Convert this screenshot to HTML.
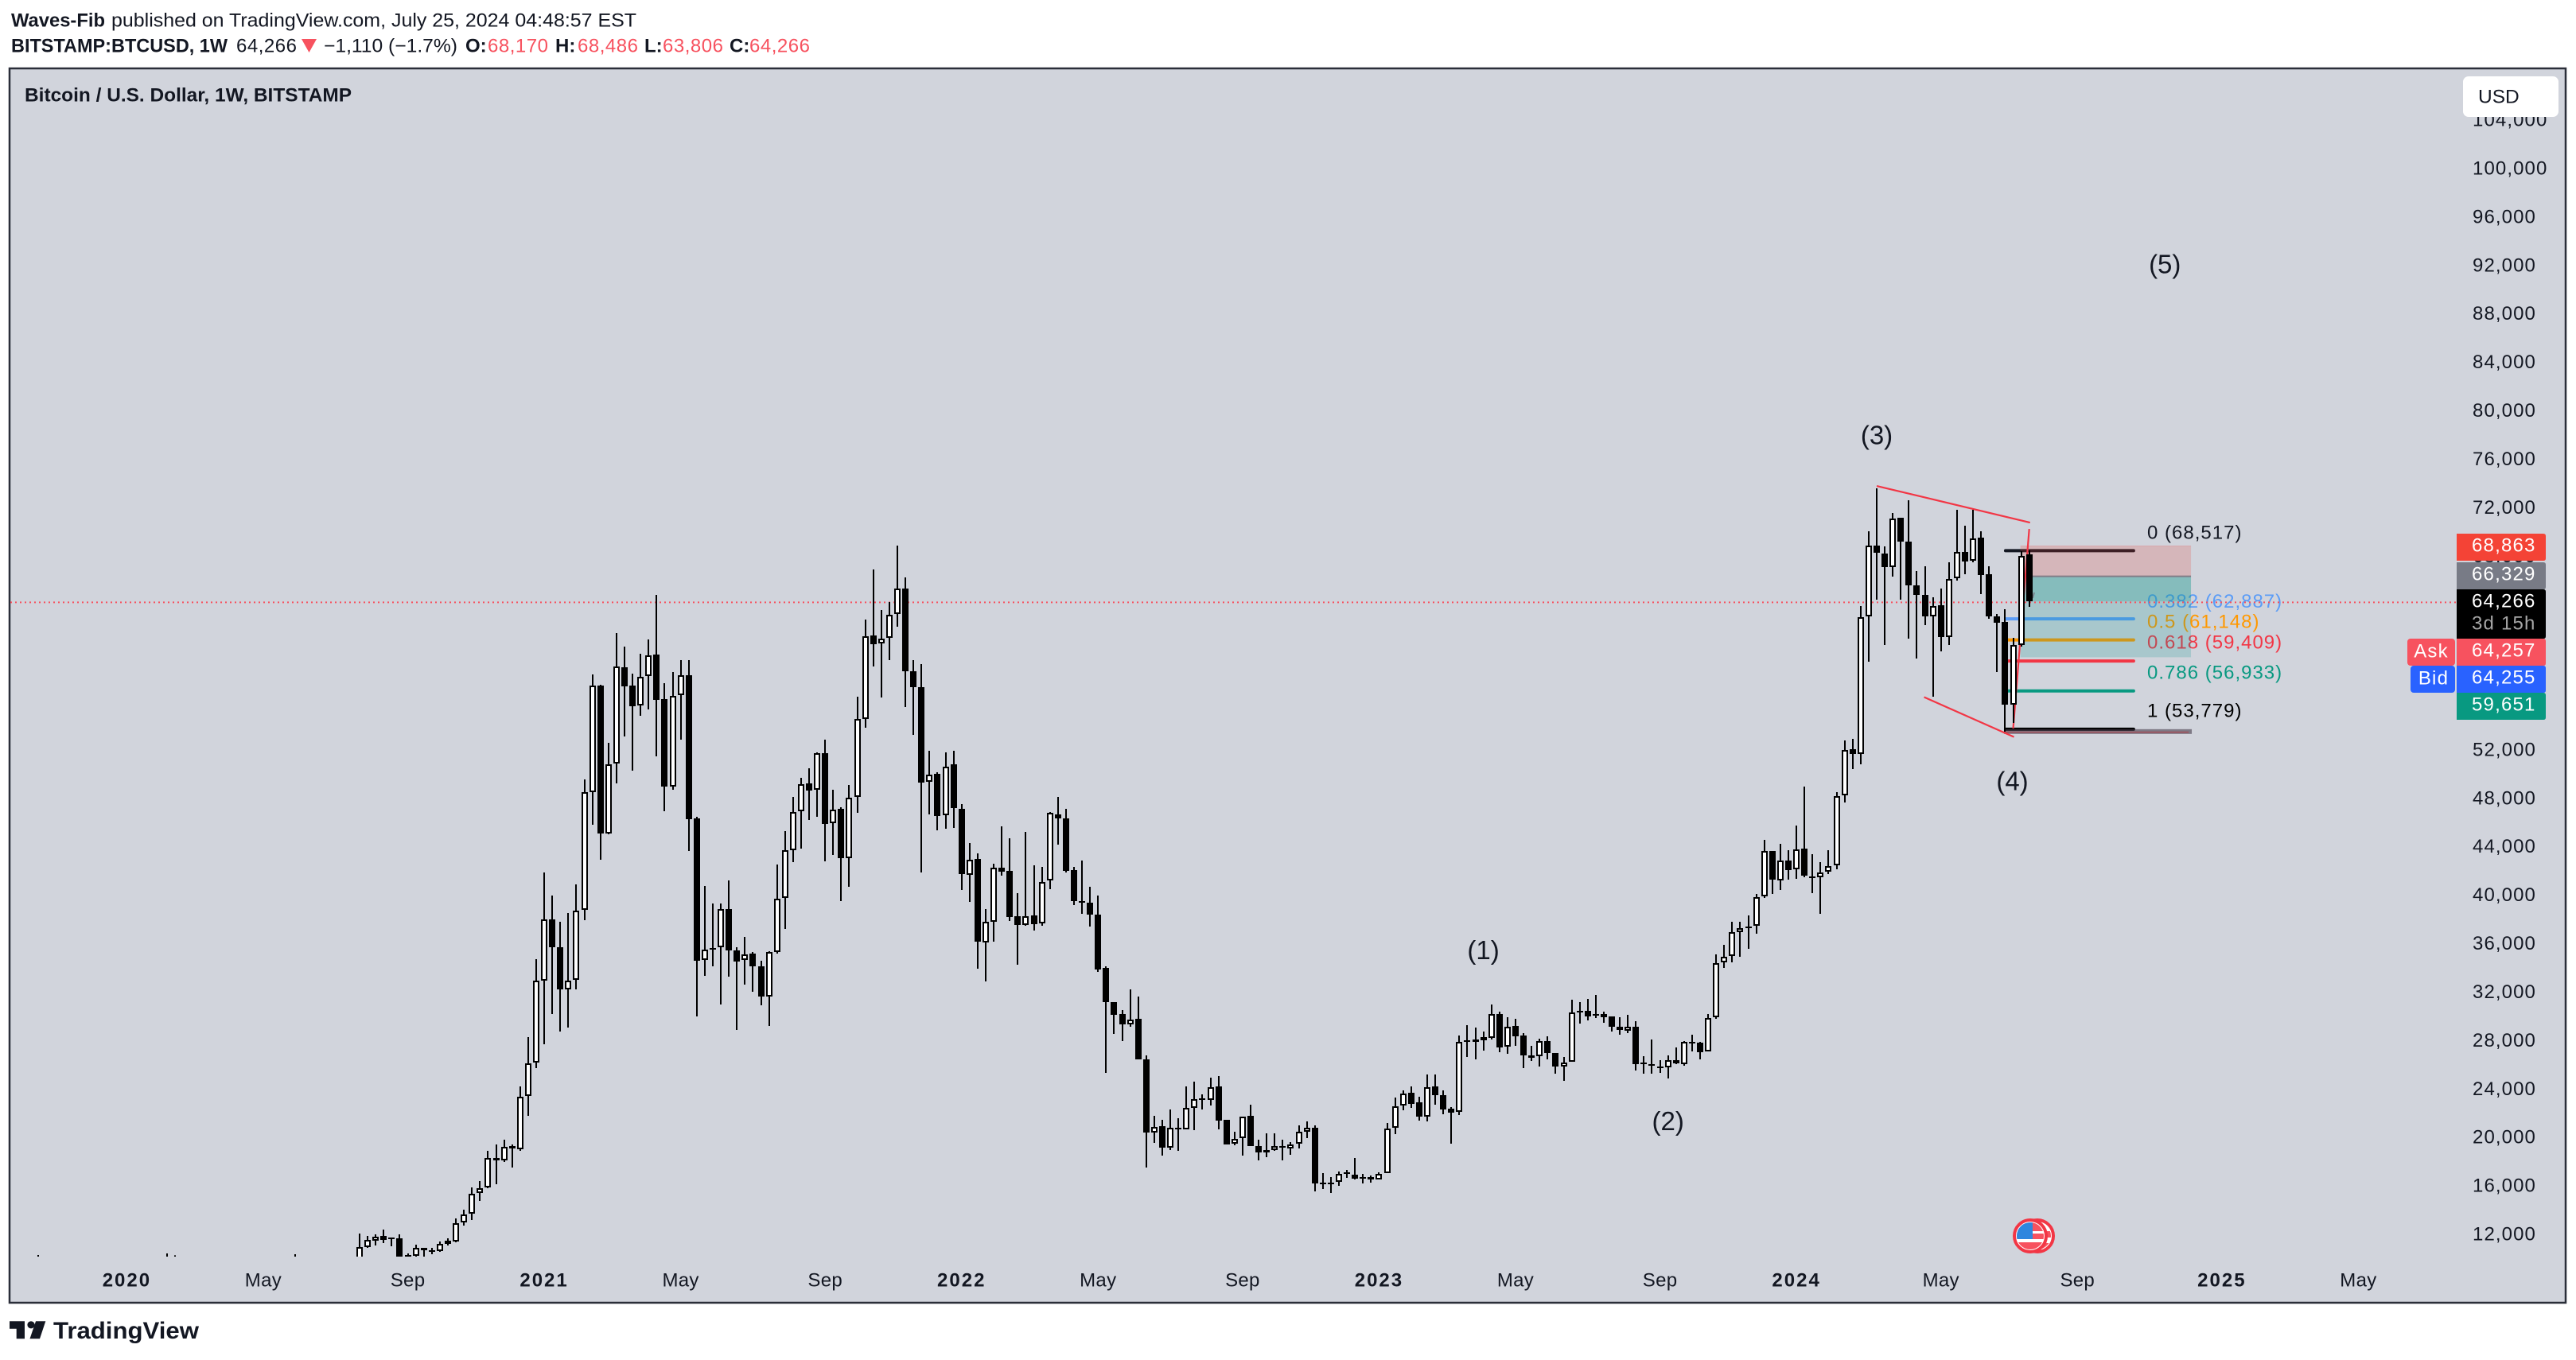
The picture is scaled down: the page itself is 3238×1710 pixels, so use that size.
<!DOCTYPE html>
<html lang="en">
<head>
<meta charset="utf-8">
<title>BTCUSD weekly chart</title>
<style>
html,body{margin:0;padding:0;background:#fff;width:3238px;height:1710px;overflow:hidden}
svg{display:block}
text{font-family:"Liberation Sans",Arial,sans-serif;fill:#131722}
.hd{font-size:24px;dominant-baseline:central}
.b{font-weight:700}
.r{fill:#f7525f}
.ax{font-size:24px;letter-spacing:1.1px;dominant-baseline:central;fill:#131722}
.tm{font-size:24px;letter-spacing:.3px;dominant-baseline:central;fill:#131722}
.badge{font-size:24px;letter-spacing:1.2px;dominant-baseline:central;fill:#fff}
.fib{font-size:24px;letter-spacing:1px;dominant-baseline:central}
.wave{font-size:33px;dominant-baseline:central;text-anchor:middle}
</style>
</head>
<body>
<svg id="root" xmlns="http://www.w3.org/2000/svg" width="3238" height="1710" viewBox="0 0 3238 1710">
  <defs>
    <clipPath id="plotClip"><rect x="13" y="87" width="3212" height="1493"/></clipPath>
    <clipPath id="coinA"><circle cx="2554" cy="1554" r="17"/></clipPath>
    <clipPath id="coinB"><circle cx="2563" cy="1554" r="17"/></clipPath>
  </defs>

  <g>
    <text class="hd b" x="14" y="26" textLength="118" lengthAdjust="spacingAndGlyphs">Waves-Fib</text>
    <text class="hd" x="140" y="26" textLength="660" lengthAdjust="spacingAndGlyphs">published on TradingView.com, July 25, 2024 04:48:57 EST</text>
    <text class="hd b" x="14" y="58" textLength="272" lengthAdjust="spacingAndGlyphs">BITSTAMP:BTCUSD, 1W</text>
    <text class="hd" x="297" y="58" textLength="76" lengthAdjust="spacing">64,266</text>
    <polygon points="379,49 398,49 388.5,66" fill="#f7525f"/>
    <text class="hd" x="407" y="58" textLength="168" lengthAdjust="spacingAndGlyphs">−1,110 (−1.7%)</text>
    <text class="hd b" x="585" y="58">O:</text>
    <text class="hd r" x="613" y="58" textLength="76" lengthAdjust="spacing">68,170</text>
    <text class="hd b" x="698" y="58">H:</text>
    <text class="hd r" x="726" y="58" textLength="76" lengthAdjust="spacing">68,486</text>
    <text class="hd b" x="810" y="58">L:</text>
    <text class="hd r" x="833" y="58" textLength="76" lengthAdjust="spacing">63,806</text>
    <text class="hd b" x="917" y="58">C:</text>
    <text class="hd r" x="942" y="58" textLength="76" lengthAdjust="spacing">64,266</text>
  </g>

  <rect x="12" y="86" width="3213" height="1552" fill="#d1d4dc" stroke="#2a2e39" stroke-width="2.5"/>
  <text class="hd b" x="31" y="120" textLength="411" lengthAdjust="spacingAndGlyphs">Bitcoin / U.S. Dollar, 1W, BITSTAMP</text>

  <g id="yAxis"></g>
  <g id="xAxis"></g>
  <g id="fibs"></g>
  <g id="position"></g>
  <g id="trend"></g>
  <line id="lastLine" x1="13" x2="3088" stroke="#f7525f" stroke-width="2" stroke-dasharray="2 4"/>
  <g id="candles" clip-path="url(#plotClip)"></g>
  <g id="waves"></g>
  <g id="badges"></g>

  <g>
    <rect x="3096" y="96" width="120" height="51" rx="7" fill="#fff"/>
    <text x="3115" y="122" font-size="24.5" dominant-baseline="central">USD</text>
  </g>

  <g transform="translate(-2,0)">
    <circle cx="2563" cy="1554" r="20" fill="#fff" stroke="#f23645" stroke-width="4"/>
    <g clip-path="url(#coinB)">
      <rect x="2546" y="1548" width="34" height="8" fill="#f7525f"/>
      <rect x="2546" y="1563" width="34" height="9" fill="#f7525f"/>
    </g>
    <circle cx="2554" cy="1554" r="20" fill="#fff" stroke="#f23645" stroke-width="4"/>
    <g clip-path="url(#coinA)">
      <rect x="2537" y="1537" width="34" height="11" fill="#f7525f"/>
      <rect x="2537" y="1551" width="34" height="7" fill="#f7525f"/>
      <rect x="2537" y="1562" width="34" height="10" fill="#f7525f"/>
      <rect x="2537" y="1537" width="20" height="21" fill="#2e86de"/>
    </g>
  </g>

  <g>
    <path d="M12 1661.3H31V1683.3H20.7V1670.7H12Z" fill="#131722"/>
    <circle cx="39" cy="1665.8" r="4.6" fill="#131722"/>
    <path d="M45 1661.3H57.3L50 1683.3H37.5Z" fill="#131722"/>
    <text x="67" y="1683" font-size="30" font-weight="700" textLength="183" lengthAdjust="spacingAndGlyphs">TradingView</text>
  </g>
</svg>

<script>
// ---- Candle data, one entry per weekly bar ----
const opens = [
9700,10971,11580,11850,11716,11650,10300,10250,10860,10690,
10600,11470,11430,12960,13700,15390,15850,18330,18085,19265,
19050,23400,26185,32976,38014,35700,32240,33030,38776,48498,
57347,45120,50866,58844,57292,55659,58082,59852,56176,48987,
56503,58191,46319,34637,35670,35700,38886,35454,34637,35153,
34146,31669,35344,39757,43732,46917,49205,48687,51710,45937,
47163,43078,48117,54570,61431,60777,61240,63201,65352,58518,
57210,49341,49994,46591,50784,47163,41690,42969,36134,37794,
42288,41990,38258,37578,38340,37661,41230,46708,46331,42059,
39546,39370,38390,33992,31153,30173,29368,29770,26453,20422,
20900,19190,20823,20697,22457,23250,23086,24242,21428,19467,
19945,21754,19316,18940,18965,19291,19240,19492,20522,20773,
16250,16250,16352,17100,16955,16750,16703,16528,17030,20798,
22608,23663,22885,21730,24192,23463,22357,22130,28036,28061,
28288,28237,30223,27484,29192,28388,26805,26705,27986,27006,
25850,26228,30474,30474,30210,30173,29972,29167,28916,29167,
26177,26025,25875,25775,26403,26076,27911,27810,27081,29921,
34444,34973,37008,37400,37500,39902,43672,41209,42893,42139,
43823,41536,41510,41937,42491,48246,52040,51664,63022,68902,
68199,67093,71139,69229,65610,64831,63022,63927,61313,66163,
68324,67596,69505,66490,63022,62544,55709,60685,68170];

const highs = [
12065,11870,12020,12400,11720,12000,10440,11150,10900,10870,
11400,11690,13310,14013,15850,16400,18900,19420,19815,19400,
24215,28290,34720,41907,40000,37800,38500,40900,49587,58218,
57400,52554,61676,60500,58327,59960,61104,64780,57483,58400,
59443,59443,46510,40792,39348,39293,41254,35700,36543,35300,
34580,35400,42534,45283,48088,49722,50458,51765,52826,48742,
47244,49124,56421,62793,66877,63582,64181,68865,66278,59416,
59117,51900,50158,51792,51955,47516,44331,43460,38830,42588,
45720,44685,40192,45230,42500,42310,46860,48090,47110,42310,
42838,40677,39948,34118,31153,30500,32258,31605,26755,21754,
21428,22280,21578,24192,24594,23563,24970,25096,21428,20447,
21730,22683,19794,20320,20372,19844,19618,20975,21352,20975,
17055,16726,17180,17305,18310,16980,16853,17105,21176,23286,
23890,24192,23337,25172,25172,23890,22507,28388,29268,29066,
28715,30977,30373,29922,29770,28615,27534,28162,28338,27006,
26654,31379,31177,31429,31755,30373,29997,29922,30097,29594,
26680,28087,26353,26755,27408,27935,28489,27911,30222,35098,
35902,37837,37837,38314,40078,44600,43672,44275,43698,45783,
48949,43420,42717,43748,48497,52769,52894,63851,70033,73627,
68777,71592,71139,72647,66766,67143,64580,65359,67520,71818,
70486,71818,70033,67143,63200,63650,61263,68400,68486];

const lows = [
9000,10900,11080,11255,11040,9900,10100,10100,10180,10330,
10530,11080,11360,12745,13180,14760,15800,16160,18000,17540,
18900,21800,25725,27673,30170,28755,29080,32212,37958,45828,
42940,45010,49260,53125,50294,54842,55359,51492,46945,48742,
52880,43677,30000,33357,34146,30987,33302,28900,32650,32050,
30934,29219,35200,37223,42750,43868,46237,46510,42806,43323,
39538,40683,46836,53861,58899,56339,59443,62166,55522,53262,
41880,46673,45366,45502,45584,40437,39429,33929,32895,36188,
41635,37905,34283,37468,37083,37510,40476,44195,41858,39170,
38490,37385,33640,25347,28564,27986,29168,26453,17531,19542,
18512,18965,18864,20697,20622,22330,22607,20673,19417,19366,
18486,19316,18109,18360,18915,18109,18561,19115,19944,15546,
15772,15420,16024,16678,16527,16226,16300,16528,17030,20295,
22256,22458,21403,21352,22709,21930,19518,21880,26654,26453,
27157,28111,27030,26930,27584,25724,26327,25825,26453,25272,
24669,26228,29419,29670,29871,29470,28766,28489,28640,25524,
25298,25298,25348,24895,26026,25950,27081,26453,27081,29795,
34000,34470,34947,35600,36800,39800,40102,40405,41259,41385,
41461,40204,38446,41762,42165,47692,50432,50833,59252,64429,
60685,66314,64404,61212,59579,62318,56413,60107,60685,66012,
66540,67470,64881,62800,58398,53523,54227,60500,63806];

const closes = [
10971,11540,11800,11560,11650,10180,10250,10860,10690,10650,
11230,11230,12940,13640,15370,15830,18330,18085,19245,19070,
23383,26140,32970,38014,35700,32213,32976,38720,48524,57320,
45120,50810,58900,57265,55630,58054,59825,56150,48987,56475,
58191,46291,34610,35508,35560,38858,35454,34555,35126,34146,
31642,35317,39730,43732,46863,49178,48660,51710,45910,47081,
43078,48060,54570,61404,60750,61186,63174,65325,58518,57183,
49314,49940,46564,50620,47217,41771,42915,36188,37822,42288,
41962,38231,37550,38258,37636,41104,46808,46331,42034,39546,
39370,38390,33866,31203,30147,29368,29745,26478,20422,20850,
19190,20773,20773,22457,23186,23200,24166,21403,19442,19870,
21728,19316,18739,18739,19267,19215,19442,20497,20823,16225,
16200,16240,16980,17050,16603,16700,16500,16980,20748,22583,
23638,22784,21704,24166,23463,22332,22080,27910,27960,27860,
28010,30197,27459,29117,28363,26805,26604,27960,27006,25825,
26202,30348,30323,30022,30150,29947,29167,28891,29142,26076,
26100,25960,25724,26403,26127,27860,27860,27056,29871,34394,
34922,36957,37309,37320,39827,43672,41259,42868,42089,43798,
41586,41460,41862,42390,48196,52015,51638,62971,68877,68274,
67068,71114,69229,65610,64831,62997,63901,61338,66138,68349,
67571,69480,66465,62997,62520,55709,60685,68023,64266];

// Wick tips of much earlier bars that just poke above the bottom of the pane
const earlyBars = [-40,-24,-23,-8];
const earlyHighs = [10293,10424,10270,10358];

// ---- Axis labels ----
const priceTicks = [12000,16000,20000,24000,28000,32000,36000,40000,44000,48000,52000,56000,60000,64000,68000,72000,76000,80000,84000,88000,92000,96000,100000,104000];
const timeLabels = ['2020','May','Sep','2021','May','Sep','2022','May','Sep','2023','May','Sep','2024','May','Sep','2025','May'];
const timeBars = [-29,-12,6,23,40,58,75,92,110,127,144,162,179,197,214,232,249];

// ---- Annotations ----
const lastPrice = 64266;
const fibLabels = ['0 (68,517)','0.382 (62,887)','0.5 (61,148)','0.618 (59,409)','0.786 (56,933)','1 (53,779)'];
const fibPrices = [68517,62887,61148,59409,56933,53779];
const fibLabelPrices = [69920,64230,62570,60860,58380,55210];
const fibColors = ['#131722','#5b9cf6','#ff9800','#f23645','#089981','#000000'];
const fibStartBar = 205.05;
const fibEndBar = 221.0;
const fibTextBar = 222.7;

const stopPrice = 68863;
const entryPrice = 66329;
const targetPrice = 59651;
const positionStartBar = 206.9;
const positionEndBar = 228.15;

const wedgeBarsA = [189,208.1];
const wedgePricesA = [73795,70775];
const wedgeBarsB = [194.9,206.1];
const wedgePricesB = [56360,53070];
const wedgeBarsC = [206,208];
const wedgePricesC = [53770,70250];

const waveLabels = ['(1)','(2)','(3)','(4)','(5)'];
const waveBars = [140,163,189,205.9,224.9];
const wavePrices = [35480,21360,78000,49440,92120];

const badgeTexts = ['68,863','66,329','64,266','64,257','64,255','59,651'];

// ---- Axis functions ----
const NS = 'http://www.w3.org/2000/svg';
function xOf(bar){ return 452 + bar * 10.09; }
function yOf(price){ return 1552 - (price - 12000) * 0.015227; }
function snapX(bar){ return Math.round(xOf(bar)); }
function mk(tag, parent){
  const el = document.createElementNS(NS, tag);
  parent.appendChild(el);
  return el;
}

// Price axis (labels are left aligned)
const yAxis = document.getElementById('yAxis');
priceTicks.forEach(function(p){
  const t = mk('text', yAxis);
  
  
  t.setAttribute('class', 'ax');
  t.setAttribute('x', 3108);
  t.setAttribute('y', yOf(p));
  t.textContent = p.toLocaleString('en-US');
});

// Time axis
const xAxis = document.getElementById('xAxis');
timeLabels.forEach(function(label, i){
  const t = mk('text', xAxis);
  
  
  t.setAttribute('class', 'tm');
  t.setAttribute('x', xOf(timeBars[i]));
  t.setAttribute('y', 1610);
  t.setAttribute('text-anchor', 'middle');
  if (/^\d/.test(label)) {
    t.setAttribute('font-weight', '700');
    t.style.letterSpacing = '2px';
  }
  t.textContent = label;
});

// Fib lines and labels
const fibs = document.getElementById('fibs');
fibPrices.forEach(function(p, i){
  const l = mk('line', fibs);
  
  
  l.setAttribute('x1', xOf(fibStartBar));
  l.setAttribute('x2', xOf(fibEndBar));
  l.setAttribute('y1', yOf(p) + 1);
  l.setAttribute('y2', yOf(p) + 1);
  l.setAttribute('stroke', fibColors[i]);
  l.setAttribute('stroke-width', 4);
  l.setAttribute('stroke-linecap', 'round');
  const t = mk('text', fibs);
  
  
  t.setAttribute('class', 'fib');
  t.setAttribute('x', xOf(fibTextBar));
  t.setAttribute('y', yOf(fibLabelPrices[i]));
  t.style.fill = fibColors[i];
  t.textContent = fibLabels[i];
});

// Position tool (semi-transparent, over the fib lines)
const pos = document.getElementById('position');
function band(top, bottom, fill){
  const r = mk('rect', pos);
  r.setAttribute('x', xOf(positionStartBar));
  r.setAttribute('width', xOf(positionEndBar) - xOf(positionStartBar));
  r.setAttribute('y', yOf(top));
  r.setAttribute('height', yOf(bottom) - yOf(top));
  r.setAttribute('fill', fill);
  return r;
}
const stopBand = band(stopPrice, entryPrice, 'rgba(229,66,50,0.2)');


const stopEdge = band(stopPrice, stopPrice - 30, 'rgba(242,54,69,0.3)');


const openProfitBand = band(entryPrice, lastPrice, 'rgba(19,152,140,0.4)');


const targetBand = band(lastPrice, targetPrice, 'rgba(5,150,140,0.2)');


const entryLine = band(entryPrice + 70, entryPrice - 60, '#827d87');


const baseBar = mk('rect', pos);


baseBar.setAttribute('x', xOf(fibStartBar) - 2);
baseBar.setAttribute('width', xOf(positionEndBar) - xOf(fibStartBar) + 3);
baseBar.setAttribute('y', yOf(53779) + 1);
baseBar.setAttribute('height', 6);
baseBar.setAttribute('fill', 'rgba(70,60,75,0.6)');
const baseRed = mk('rect', pos);


baseRed.setAttribute('x', xOf(fibStartBar) - 2);
baseRed.setAttribute('width', xOf(positionEndBar) - xOf(fibStartBar) - 1);
baseRed.setAttribute('y', yOf(53779) + 4);
baseRed.setAttribute('height', 1.5);
baseRed.setAttribute('fill', 'rgba(190,40,50,0.55)');
const entryArrow = mk('polyline', pos);


entryArrow.setAttribute('points', '2555,752 2557,745');
entryArrow.setAttribute('fill', 'none');
entryArrow.setAttribute('stroke', '#77808a');
entryArrow.setAttribute('stroke-width', 2);

// Wedge lines
const trend = document.getElementById('trend');
function seg(bars, prices){
  const l = mk('line', trend);
  l.setAttribute('x1', xOf(bars[0]));
  l.setAttribute('y1', yOf(prices[0]));
  l.setAttribute('x2', xOf(bars[1]));
  l.setAttribute('y2', yOf(prices[1]));
  l.setAttribute('stroke', '#f23645');
  l.setAttribute('stroke-width', 2.2);
  return l;
}
const wedgeTop = seg(wedgeBarsA, wedgePricesA);


const wedgeBottom = seg(wedgeBarsB, wedgePricesB);


const wedgeRise = seg(wedgeBarsC, wedgePricesC);



// Last price line
const lastLine = document.getElementById('lastLine');
lastLine.setAttribute('y1', yOf(lastPrice) + 1.2);
lastLine.setAttribute('y2', yOf(lastPrice) + 1.2);

// Candles
const candles = document.getElementById('candles');
earlyBars.forEach(function(b, i){
  const w = mk('rect', candles);
  
  
  w.setAttribute('x', snapX(b) - 1);
  w.setAttribute('width', 2);
  w.setAttribute('y', yOf(earlyHighs[i]));
  w.setAttribute('height', 1600 - yOf(earlyHighs[i]));
  w.setAttribute('fill', '#000');
});
opens.forEach(function(o, i){
  const c = closes[i];
  const cx = snapX(i);
  const g = mk('g', candles);
  
  
  const top = Math.round(yOf(highs[i]));
  const bot = Math.round(yOf(lows[i]));
  const wick = mk('rect', g);
  
  
  wick.setAttribute('x', cx - 1);
  wick.setAttribute('y', top);
  wick.setAttribute('width', 2);
  wick.setAttribute('height', Math.max(1, bot - top));
  wick.setAttribute('fill', '#000');
  const bt = Math.round(yOf(Math.max(o, c)));
  let bb = Math.round(yOf(Math.min(o, c)));
  const up = c >= o;
  if (bb - bt < (up ? 5 : 2)) { bb = bt + (up ? 5 : 2); }
  const body = mk('rect', g);
  
  
  body.setAttribute('x', cx - 4);
  body.setAttribute('y', bt);
  body.setAttribute('width', 8);
  body.setAttribute('height', bb - bt);
  body.setAttribute('fill', '#000');
  if (up) {
    const inner = mk('rect', g);
    
    
    inner.setAttribute('x', cx - 2);
    inner.setAttribute('y', bt + 2);
    inner.setAttribute('width', 4);
    inner.setAttribute('height', bb - bt - 4);
    inner.setAttribute('fill', '#fff');
  }
});

// Wave labels
const waves = document.getElementById('waves');
waveLabels.forEach(function(label, i){
  const t = mk('text', waves);
  
  
  t.setAttribute('class', 'wave');
  t.setAttribute('x', xOf(waveBars[i]));
  t.setAttribute('y', yOf(wavePrices[i]));
  t.textContent = label;
});

// Price badges
const badges = document.getElementById('badges');
function box(x, y, w, h, fill){
  const r = 3;
  const b = mk('path', badges);
  b.setAttribute('d', 'M' + x + ' ' + y + 'H' + (x + w - r) + 'Q' + (x + w) + ' ' + y + ' ' + (x + w) + ' ' + (y + r) + 'V' + (y + h - r) + 'Q' + (x + w) + ' ' + (y + h) + ' ' + (x + w - r) + ' ' + (y + h) + 'H' + x + 'Z');
  b.setAttribute('fill', fill);
  return b;
}
function label(x, y, s){
  const t = mk('text', badges);
  t.setAttribute('class', 'badge');
  t.setAttribute('x', x);
  t.setAttribute('y', y);
  t.textContent = s;
  return t;
}
const b1 = box(3088, 671, 112, 34, '#f44336');


const l1 = label(3107, 686, badgeTexts[0]);


const b2 = box(3088, 707, 112, 34, '#787b86');


const l2 = label(3107, 722, badgeTexts[1]);


const b3 = box(3088, 741, 112, 62, '#000000');


const l3 = label(3107, 756, badgeTexts[2]);


const l3b = label(3107, 784, '3d 15h');


l3b.style.fill = '#a6a6a6';
const b4 = box(3088, 803, 112, 34, '#f7525f');


const l4 = label(3107, 818, badgeTexts[3]);


const b5 = box(3088, 837, 112, 34, '#2962ff');


const l5 = label(3107, 852, badgeTexts[4]);


const b6 = box(3088, 871, 112, 34, '#089981');


const l6 = label(3107, 886, badgeTexts[5]);



const askTag = mk('rect', badges);


askTag.setAttribute('x', 3026);
askTag.setAttribute('y', 803);
askTag.setAttribute('width', 60);
askTag.setAttribute('height', 34);
askTag.setAttribute('rx', 4);
askTag.setAttribute('fill', '#f7525f');
const askText = mk('text', badges);


askText.setAttribute('class', 'badge');
askText.setAttribute('x', 3056);
askText.setAttribute('y', 819);
askText.style.textAnchor = 'middle';
askText.textContent = 'Ask';
const bidTag = mk('rect', badges);


bidTag.setAttribute('x', 3030);
bidTag.setAttribute('y', 837);
bidTag.setAttribute('width', 56);
bidTag.setAttribute('height', 34);
bidTag.setAttribute('rx', 4);
bidTag.setAttribute('fill', '#2962ff');
const bidText = mk('text', badges);


bidText.setAttribute('class', 'badge');
bidText.setAttribute('x', 3059);
bidText.setAttribute('y', 853);
bidText.style.textAnchor = 'middle';
bidText.textContent = 'Bid';
</script>
</body>
</html>
